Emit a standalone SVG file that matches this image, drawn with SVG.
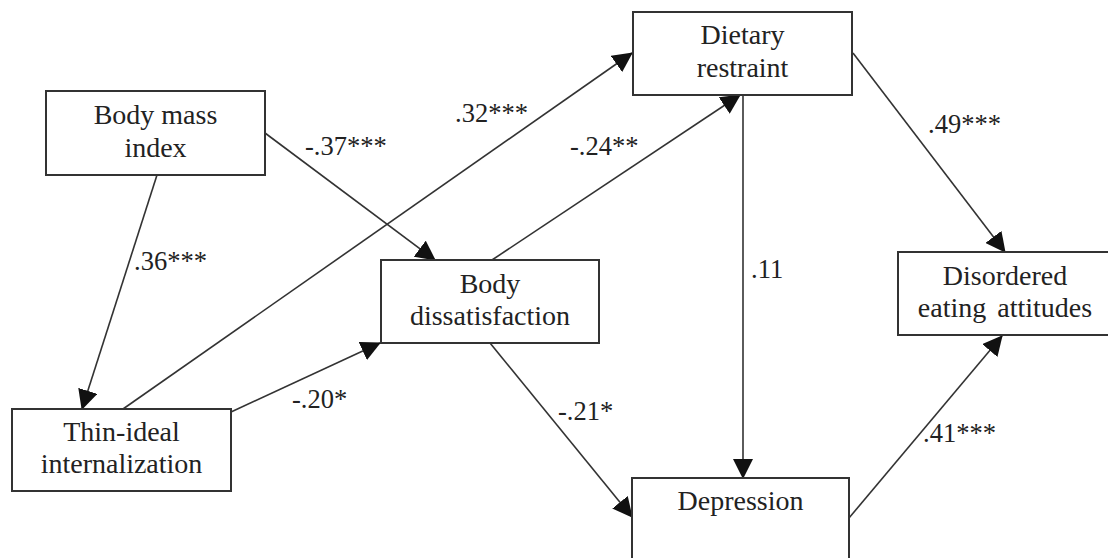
<svg xmlns="http://www.w3.org/2000/svg" width="1108" height="558" viewBox="0 0 1108 558">
<style>
.box{fill:#fff;stroke:#333;stroke-width:2}
.nt{font-family:'Liberation Serif','Times New Roman','DejaVu Serif',serif;font-size:28px;fill:#222;text-anchor:middle}
.edge{stroke:#333;stroke-width:1.6;fill:none;marker-end:url(#ah)}
.lbl{font-family:'Liberation Serif','Times New Roman','DejaVu Serif',serif;font-size:26.5px;fill:#222}
</style>
<defs>
<marker id="ah" markerUnits="userSpaceOnUse" markerWidth="20" markerHeight="20" viewBox="0 0 20 20" refX="19" refY="10" orient="auto">
<path d="M0,0 L20,10 L0,20 Z" fill="#111"/>
</marker>
</defs>
<rect width="1108" height="558" fill="#fff"/>
<g id="connectors">
<line class="edge" x1="157" y1="175" x2="82" y2="409"/>
<line class="edge" x1="265" y1="133" x2="435" y2="260"/>
<line class="edge" x1="123" y1="409" x2="632" y2="53"/>
<line class="edge" x1="231" y1="412" x2="380" y2="343"/>
<line class="edge" x1="492" y1="260" x2="740" y2="95"/>
<line class="edge" x1="743" y1="95" x2="743" y2="478"/>
<line class="edge" x1="490" y1="343" x2="632" y2="517"/>
<line class="edge" x1="849" y1="518" x2="1002" y2="336"/>
<line class="edge" x1="853" y1="53" x2="1005" y2="252"/>
<text class="lbl" x="134" y="270">.36***</text>
<text class="lbl" x="305" y="155">-.37***</text>
<text class="lbl" x="455" y="122">.32***</text>
<text class="lbl" x="292" y="408">-.20*</text>
<text class="lbl" x="570" y="155">-.24**</text>
<text class="lbl" x="751" y="278">.11</text>
<text class="lbl" x="558" y="420">-.21*</text>
<text class="lbl" x="923" y="442">.41***</text>
<text class="lbl" x="928" y="133">.49***</text>
</g>
<g id="bmi">
<rect class="box" x="46" y="91" width="219" height="84"/>
<text class="nt" x="155.5" y="124">Body mass</text>
<text class="nt" x="155.5" y="157">index</text>
</g>
<g id="thin">
<rect class="box" x="12" y="409" width="219" height="82"/>
<text class="nt" x="121.5" y="441">Thin-ideal</text>
<text class="nt" x="121.5" y="473">internalization</text>
</g>
<g id="bd">
<rect class="box" x="381" y="260" width="218" height="83"/>
<text class="nt" x="490" y="293">Body</text>
<text class="nt" x="490" y="325">dissatisfaction</text>
</g>
<g id="dr">
<rect class="box" x="633" y="12" width="219" height="83"/>
<text class="nt" x="742.5" y="44">Dietary</text>
<text class="nt" x="742.5" y="77">restraint</text>
</g>
<g id="dea">
<rect class="box" x="898" y="252" width="214" height="83"/>
<text class="nt" x="1005" y="285">Disordered</text>
<text class="nt" x="1005" y="317" word-spacing="4">eating attitudes</text>
</g>
<g id="dep">
<rect class="box" x="632" y="478" width="217" height="90"/>
<text class="nt" x="740.5" y="510">Depression</text>
</g>
</svg>
